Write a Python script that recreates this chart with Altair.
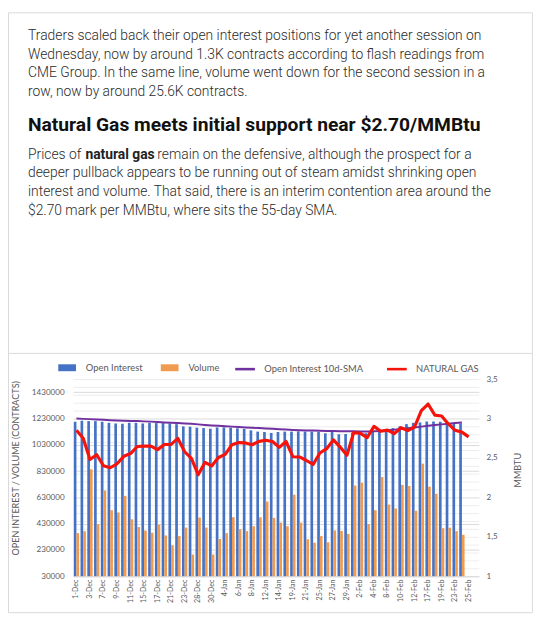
import altair as alt
import pandas as pd

# ---------------- data ----------------
dates = ["1-Dec", "2-Dec", "3-Dec", "4-Dec", "7-Dec", "8-Dec", "9-Dec", "10-Dec", "11-Dec",
         "14-Dec", "15-Dec", "16-Dec", "17-Dec", "18-Dec", "21-Dec", "22-Dec", "23-Dec", "24-Dec",
         "28-Dec", "29-Dec", "30-Dec", "31-Dec", "4-Jan", "5-Jan", "6-Jan", "7-Jan", "8-Jan",
         "11-Jan", "12-Jan", "13-Jan", "14-Jan", "15-Jan", "19-Jan", "20-Jan", "21-Jan", "22-Jan",
         "25-Jan", "26-Jan", "27-Jan", "28-Jan", "29-Jan", "1-Feb", "2-Feb", "3-Feb", "4-Feb",
         "5-Feb", "8-Feb", "9-Feb", "10-Feb", "11-Feb", "12-Feb", "16-Feb", "17-Feb", "18-Feb",
         "19-Feb", "22-Feb", "23-Feb", "24-Feb", "25-Feb", "26-Feb"]

# thousands of contracts
open_interest = [1205, 1213, 1210, 1210, 1205, 1197, 1192, 1190, 1197, 1197,
                 1192, 1197, 1195, 1195, 1192, 1187, 1170, 1167, 1160, 1157,
                 1152, 1162, 1162, 1160, 1155, 1150, 1140, 1130, 1127, 1120,
                 1127, 1130, 1130, 1132, 1130, 1130, 1127, 1117, 1130, 1110,
                 1112, 1122, 1122, 1118, 1140, 1142, 1150, 1157, 1170, 1187,
                 1197, 1200, 1207, 1207, 1205, 1197, 1192, 1192]

volume = [358, 372, 843, 426, 682, 532, 515, 641, 463, 404,
          377, 361, 422, 340, 265, 335, 400, 195, 476, 400,
          195, 313, 358, 479, 388, 373, 410, 478, 598, 474,
          438, 410, 650, 437, 311, 285, 335, 288, 378, 374,
          352, 720, 741, 426, 532, 785, 575, 545, 725, 716,
          528, 886, 711, 657, 395, 399, 373, 345]

oi_sma = [1230, 1227, 1225, 1222, 1220, 1217, 1215, 1213, 1211, 1210,
          1208, 1206, 1203, 1200, 1197, 1195, 1192, 1189, 1185, 1181,
          1177, 1174, 1171, 1168, 1165, 1162, 1159, 1157, 1154, 1151,
          1148, 1146, 1143, 1141, 1139, 1138, 1136, 1135, 1134, 1133,
          1132, 1132, 1131, 1131, 1132, 1135, 1140, 1145, 1150, 1156,
          1162, 1168, 1174, 1180, 1185, 1190, 1195, 1200]

ng_price = [2.85, 2.75, 2.48, 2.54, 2.40, 2.375, 2.425, 2.52, 2.555, 2.645,
            2.65, 2.65, 2.605, 2.67, 2.672, 2.748, 2.578, 2.493, 2.287, 2.443,
            2.398, 2.505, 2.545, 2.668, 2.694, 2.69, 2.667, 2.71, 2.723, 2.708,
            2.633, 2.708, 2.515, 2.512, 2.467, 2.417, 2.562, 2.617, 2.729, 2.637,
            2.533, 2.821, 2.812, 2.758, 2.90, 2.838, 2.852, 2.807, 2.883, 2.846,
            2.892, 3.10, 3.183, 3.042, 3.031, 2.931, 2.85, 2.827, 2.767]

left_ticks = [30000, 230000, 430000, 630000, 830000, 1030000, 1230000, 1430000]
right_ticks = [1.0, 1.1, 1.2, 1.3, 1.4, 1.5, 1.6, 1.7, 1.8, 1.9, 2.0, 2.1, 2.2,
               2.3, 2.4, 2.5, 2.6, 2.7, 2.8, 2.9, 3.0, 3.1, 3.2, 3.3, 3.4, 3.5]
label_dates = dates[::2]

bar_series = ["Open Interest", "Volume"]
line_series = ["Open Interest 10d-SMA", "NATURAL GAS"]

para1 = [
    "Traders scaled back their open interest positions for yet another session on",
    "Wednesday, now by around 1.3K contracts according to flash readings from",
    "CME Group. In the same line, volume went down for the second session in a",
    "row, now by around 25.6K contracts.",
]
heading = "Natural Gas meets initial support near $2.70/MMBtu"
para2_first = ["Prices of", "natural gas", "remain on the defensive, although the prospect for a"]
para2_rest = [
    "deeper pullback appears to be running out of steam amidst shrinking open",
    "interest and volume. That said, there is an interim contention area around the",
    "$2.70 mark per MMBtu, where sits the 55-day SMA.",
]

# ---------------- styles ----------------
BLUE = "#4472C4"
ORANGE = "#F19B50"
PURPLE = "#7030A0"
RED = "#F5140C"
GRAY = "#595959"
FONT = "Lato"
TXT = "Roboto"
P_SIZE = 14.05
P_COLOR = "#2b2b2b"

n = len(open_interest)
bars_df = pd.DataFrame({
    "date": dates[:n] * 2,
    "series": [bar_series[0]] * n + [bar_series[1]] * n,
    "value": [v * 1000 for v in open_interest] + [v * 1000 for v in volume],
})
sma_df = pd.DataFrame({
    "date": dates[:len(oi_sma)],
    "value": [v * 1000 for v in oi_sma],
    "series": line_series[0],
})
ng_df = pd.DataFrame({
    "date": dates[:len(ng_price)],
    "price": ng_price,
    "series": line_series[1],
})

x_enc = alt.X(
    "date:N", sort=dates,
    scale=alt.Scale(domain=dates, paddingInner=0.21, paddingOuter=0.105),
    axis=alt.Axis(values=label_dates, labelAngle=270, title=None, ticks=False,
                  domainColor="#d9d9d9", labelPadding=3, labelFont=FONT,
                  labelFontSize=7.2, labelColor=GRAY, grid=False),
)

y_left = alt.Y(
    "value:Q",
    scale=alt.Scale(domain=[30000, 1530000], zero=False, nice=False),
    axis=alt.Axis(values=left_ticks, format="d", grid=True, gridColor="#d9d9d9",
                  domain=False, ticks=False, labelPadding=9, labelFont=FONT,
                  labelFontSize=8.2, labelColor=GRAY,
                  title="OPEN INTEREST / VOLUME (CONTRACTS)", titleFont=FONT,
                  titleFontSize=9.2, titleFontWeight="normal", titleColor=GRAY,
                  titleAngle=270, titleX=-58.5, titleY=90, titleAlign="center",
                  titleBaseline="middle"),
)

y_right = alt.Y(
    "price:Q",
    scale=alt.Scale(domain=[1, 3.5], zero=False, nice=False),
    axis=alt.Axis(orient="right", values=right_ticks,
                  labelExpr="abs(round(datum.value * 2) - datum.value * 2) < 0.001 ? "
                            "replace(format(datum.value, '.1~f'), '.', ',') : ''",
                  grid=True, gridColor="#ededed", domain=False, ticks=False,
                  labelPadding=7.4, labelFont=FONT, labelFontSize=8.2, labelColor=GRAY,
                  title="MMBTU", titleFont=FONT, titleFontSize=9.2,
                  titleFontWeight="normal", titleColor=GRAY, titleAngle=270,
                  titleX=39.4, titleY=92, titleAlign="center", titleBaseline="middle"),
)

fill_enc = alt.Color(
    "series:N",
    scale=alt.Scale(domain=bar_series, range=[BLUE, ORANGE]),
    legend=alt.Legend(orient="none", legendX=-15, legendY=-20.7, direction="horizontal",
                      title=None, symbolType="M-1,-0.39H1V0.39H-1Z", symbolSize=324,
                      symbolStrokeWidth=0, labelOffset=10, columnPadding=18, padding=0,
                      labelFont=FONT, labelFontSize=9.5, labelColor=GRAY),
)

stroke_enc = alt.Stroke(
    "series:N",
    scale=alt.Scale(domain=line_series, range=[PURPLE, RED]),
    legend=alt.Legend(orient="none", legendX=163, legendY=-21.7, direction="horizontal",
                      title=None, symbolType="stroke", symbolSize=400,
                      symbolStrokeWidth=2.6, labelOffset=8, columnPadding=18, padding=0,
                      labelFont=FONT, labelFontSize=9.5, labelColor=GRAY),
)

bars = alt.Chart(bars_df).mark_bar().encode(
    x=x_enc,
    xOffset=alt.XOffset("series:N", sort=bar_series),
    y=y_left,
    y2=alt.datum(30000),
    color=fill_enc,
)

sma = alt.Chart(sma_df).mark_line(strokeWidth=2).encode(x=x_enc, y=y_left, stroke=stroke_enc)
ng = alt.Chart(ng_df).mark_line(strokeWidth=3.2, strokeJoin="round").encode(
    x=x_enc, y=y_right, stroke=stroke_enc)

main = alt.layer(alt.layer(bars, sma), ng).resolve_scale(y="independent")


def text_layer(s, x, y, size, weight, color):
    return alt.Chart(pd.DataFrame({"t": [s]})).mark_text(
        align="left", baseline="middle", font=TXT, fontSize=size,
        fontWeight=weight, color=color,
    ).encode(x=alt.value(x), y=alt.value(y), text="t:N")


one = pd.DataFrame({"k": [0]})
border = alt.Chart(one).mark_rect(fillOpacity=0, stroke="#d9d9d9", strokeWidth=1).encode(
    x=alt.value(-65.5), x2=alt.value(466), y=alt.value(-371.5), y2=alt.value(237))
divider = alt.Chart(one).mark_rule(color="#d9d9d9", strokeWidth=1).encode(
    x=alt.value(-65.5), x2=alt.value(466), y=alt.value(-26))

texts = []
P1_Y = [-348.0, -329.0, -310.0, -291.0]
for s, yy in zip(para1, P1_Y):
    texts.append(text_layer(s, -45.7, yy, P_SIZE, 300, P_COLOR))
texts.append(text_layer(heading, -45.7, -257.5, 19.5, "bold", "#111111"))
texts.append(text_layer(para2_first[0], -45.7, -227.5, P_SIZE, 300, P_COLOR))
texts.append(text_layer(para2_first[1], 12.5, -227.5, P_SIZE, "bold", "#222222"))
texts.append(text_layer(para2_first[2], 85.5, -227.5, P_SIZE, 300, P_COLOR))
for s, yy in zip(para2_rest, [-208.5, -189.5, -170.5]):
    texts.append(text_layer(s, -45.7, yy, P_SIZE, 300, P_COLOR))

chart = alt.layer(border, divider, *texts, main).properties(
    width=411.6, height=200,
    padding={"left": 66, "top": 372, "right": 56, "bottom": 37},
    autosize=alt.AutoSizeParams(type="none"),
    background="white",
).configure_view(strokeWidth=0)

chart.save("out.html", embed_options={"renderer": "svg", "actions": False})
